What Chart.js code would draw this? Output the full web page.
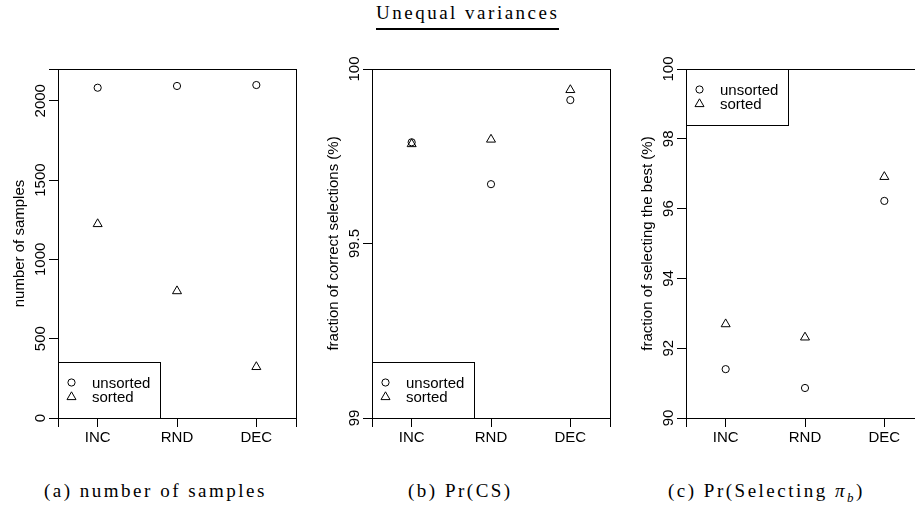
<!DOCTYPE html>
<html>
<head>
<meta charset="utf-8">
<script src="https://cdn.jsdelivr.net/npm/chart.js@4.4.1/dist/chart.umd.min.js"></script>
<style>
  body { margin: 0; width: 915px; height: 510px; overflow: hidden; background: #fff; position: relative; }
  .panel { position: absolute; top: 0; width: 310px; height: 450px; }
  .serif { position: absolute; font-family: 'Liberation Serif', serif; font-size: 19px; letter-spacing: 2.5px; color: #000; white-space: nowrap; }
  #title { left: 376px; top: 2px; border-bottom: 2px solid #000; padding-bottom: 4px; }
</style>
</head>
<body>
<div id="title" class="serif">Unequal variances</div>
<div class="panel" style="left:0px"><canvas id="c1" width="310" height="450"></canvas></div>
<div class="panel" style="left:314px"><canvas id="c2" width="310" height="450"></canvas></div>
<div class="panel" style="left:628px"><canvas id="c3" width="310" height="450"></canvas></div>
<div class="serif" style="left:44px; top:480px">(a) number of samples</div>
<div class="serif" style="left:408px; top:480px">(b) Pr(CS)</div>
<div class="serif" style="left:668px; top:480px">(c) Pr(Selecting <i>&pi;<sub style="font-size:13px">b</sub></i>)</div>

<script>
// Data
const categories = ['INC', 'RND', 'DEC'];
const xTickValues = [0.5, 1, 2, 3, 3.5];

const samplesUnsorted = [2082, 2093, 2099];
const samplesSorted = [1223, 800, 322];
const samplesTicks = [0, 500, 1000, 1500, 2000, 2200];
const samplesTickLabels = ['0', '500', '1000', '1500', '2000', ''];

const pcsUnsorted = [99.79, 99.67, 99.911];
const pcsSorted = [99.785, 99.798, 99.94];
const pcsTicks = [99, 99.5, 100];
const pcsTickLabels = ['99', '99.5', '100'];

const bestUnsorted = [91.40, 90.86, 96.22];
const bestSorted = [92.69, 92.31, 96.91];
const bestTicks = [90, 92, 94, 96, 98, 100];
const bestTickLabels = ['90', '92', '94', '96', '98', '100'];

const FONT = "'Liberation Sans', Arial, sans-serif";

function toPoints(values) {
    return values.map((v, i) => ({ x: i + 1, y: v }));
}

// frame around the plot region, like R's box()
const boxPlugin = {
    id: 'box',
    afterDraw(chart) {
        const a = chart.chartArea;
        const ctx = chart.ctx;
        ctx.save();
        ctx.strokeStyle = '#000';
        ctx.lineWidth = 1;
        ctx.strokeRect(Math.round(a.left) + 0.5, Math.round(a.top) + 0.5,
            Math.round(a.right - a.left), Math.round(a.bottom - a.top));
        ctx.restore();
    }
};

// rotated y tick labels
const yLabelPlugin = {
    id: 'yLabels',
    afterDraw(chart, args, opts) {
        const scale = chart.scales.y;
        const ctx = chart.ctx;
        ctx.save();
        ctx.fillStyle = '#000';
        ctx.font = '15px ' + FONT;
        ctx.textAlign = 'center';
        ctx.textBaseline = 'middle';
        opts.values.forEach((v, i) => {
            const y = scale.getPixelForValue(v);
            ctx.save();
            ctx.translate(chart.chartArea.left - 17, y);
            ctx.rotate(-Math.PI / 2);
            ctx.fillText(opts.labels[i], 0, 0);
            ctx.restore();
        });
        ctx.restore();
    }
};

// legend box placed inside the plot
const boxLegendPlugin = {
    id: 'boxLegend',
    afterDraw(chart, args, opts) {
        const a = chart.chartArea;
        const ctx = chart.ctx;
        const w = 102, h = 56;
        const left = a.left;
        const top = opts.corner === 'top' ? a.top : a.bottom - h;
        ctx.save();
        ctx.strokeStyle = '#000';
        ctx.lineWidth = 1;
        ctx.strokeRect(Math.round(left) + 0.5, Math.round(top) + 0.5, w, h);
        ctx.font = '15px ' + FONT;
        ctx.textBaseline = 'middle';
        ctx.textAlign = 'left';
        chart.data.datasets.forEach((ds, i) => {
            const rowY = top + 20.5 + i * 14.5;
            ctx.fillStyle = 'rgba(0,0,0,0)';
            ctx.strokeStyle = '#000';
            Chart.helpers.drawPoint(ctx, {
                pointStyle: ds.pointStyle, radius: ds.pointRadius, rotation: 0, borderWidth: 1
            }, left + 13.5, rowY);
            ctx.fillStyle = '#000';
            ctx.fillText(ds.label, left + 34, rowY + 1);
        });
        ctx.restore();
    }
};

function makePanel(id, unsorted, sorted, yMin, yMax, yTicks, yTickLabels, yTitle, legendCorner) {
    const ctx = document.getElementById(id).getContext('2d');
    return new Chart(ctx, {
        type: 'scatter',
        data: {
            datasets: [
                {
                    label: 'unsorted', data: toPoints(unsorted),
                    pointStyle: 'circle', pointRadius: 3.6,
                    borderColor: '#000', backgroundColor: 'rgba(0,0,0,0)', borderWidth: 1
                },
                {
                    label: 'sorted', data: toPoints(sorted),
                    pointStyle: 'triangle', pointRadius: 5.2,
                    borderColor: '#000', backgroundColor: 'rgba(0,0,0,0)', borderWidth: 1
                }
            ]
        },
        options: {
            responsive: false,
            animation: false,
            devicePixelRatio: 1,
            layout: { padding: { top: 69, right: 14, bottom: 0, left: 0 } },
            plugins: {
                legend: { display: false },
                tooltip: { enabled: false },
                yLabels: { values: yTicks, labels: yTickLabels },
                boxLegend: { corner: legendCorner }
            },
            scales: {
                x: {
                    type: 'linear',
                    min: 0.5,
                    max: 3.5,
                    afterBuildTicks: (scale) => { scale.ticks = xTickValues.map(v => ({ value: v })); },
                    afterFit: (scale) => { scale.height = 32; },
                    grid: { drawOnChartArea: false, drawTicks: true, tickLength: 9, color: '#000', lineWidth: 1 },
                    border: { display: true, color: '#000', width: 1 },
                    ticks: {
                        autoSkip: false, maxRotation: 0, padding: 2, color: '#000',
                        font: { family: FONT, size: 15 },
                        callback: (v) => (Number.isInteger(v) ? categories[v - 1] : '')
                    }
                },
                y: {
                    type: 'linear',
                    min: yMin,
                    max: yMax,
                    afterBuildTicks: (scale) => { scale.ticks = yTicks.map(v => ({ value: v })); },
                    afterFit: (scale) => { scale.width = 58; },
                    grid: { drawOnChartArea: false, drawTicks: true, tickLength: 9, color: '#000', lineWidth: 1 },
                    border: { display: true, color: '#000', width: 1 },
                    ticks: { display: false },
                    title: {
                        display: true, text: yTitle, color: '#000',
                        font: { family: FONT, size: 15 },
                        padding: { top: 10.5, bottom: 0 }
                    }
                }
            }
        },
        plugins: [boxPlugin, yLabelPlugin, boxLegendPlugin]
    });
}

makePanel('c1', samplesUnsorted, samplesSorted, 0, 2200, samplesTicks, samplesTickLabels, 'number of samples', 'bottom');
makePanel('c2', pcsUnsorted, pcsSorted, 99, 100, pcsTicks, pcsTickLabels, 'fraction of correct selections (%)', 'bottom');
makePanel('c3', bestUnsorted, bestSorted, 90, 100, bestTicks, bestTickLabels, 'fraction of selecting the best (%)', 'top');
</script>
</body>
</html>
